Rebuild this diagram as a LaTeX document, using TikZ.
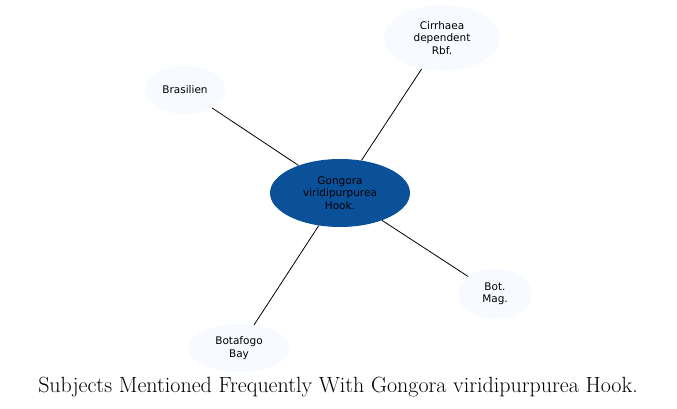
\documentclass[tikz,border=0pt]{standalone}
\usepackage{fontspec}
\newfontfamily\dv{DejaVu Sans}
\usetikzlibrary{shapes.geometric}
\begin{document}
\begin{tikzpicture}[x=1pt,y=-1pt,
 leaf/.style={ellipse,inner sep=0pt,font=\dv\fontsize{10.5}{12.5}\selectfont,align=center},
 hub/.style={ellipse,inner sep=0pt,font=\dv\fontsize{10.5}{12.5}\selectfont,align=center},
 edge/.style={draw=black,line width=0.8pt}]
\useasboundingbox (0,0) rectangle (677,409);
\definecolor{hubc}{HTML}{0B519A}
\definecolor{leafc}{HTML}{F7FAFF}
\node[hub,fill=hubc,minimum width=140,minimum height=68] (c) at (340,193) {Gongora\\viridipurpurea\\Hook.};
\node[leaf,fill=leafc,minimum width=116,minimum height=66] (a) at (442,38) {Cirrhaea\\dependent\\Rbf.};
\node[leaf,fill=leafc,minimum width=80,minimum height=48] (b) at (185,90) {Brasilien};
\node[leaf,fill=leafc,minimum width=74,minimum height=50] (d) at (495,294) {Bot.\\Mag.};
\node[leaf,fill=leafc,minimum width=102,minimum height=48] (e) at (239,348) {Botafogo\\Bay};
\draw[edge] (c) -- (a);
\draw[edge] (c) -- (b);
\draw[edge] (c) -- (d);
\draw[edge] (c) -- (e);
\node[font=\fontsize{22}{26}\selectfont] (t) at (338,387) {Subjects Mentioned Frequently With Gongora viridipurpurea Hook.};
\end{tikzpicture}
\end{document}
